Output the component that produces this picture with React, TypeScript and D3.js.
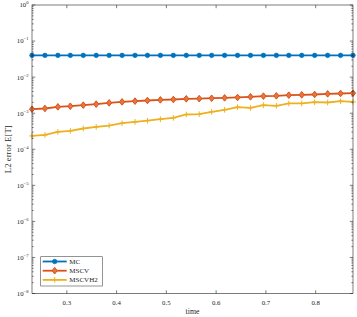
import React, { useEffect, useRef } from 'react'
import * as d3 from 'd3'

// time grid (x values)
const times = [
    0.230, 0.256, 0.282, 0.307, 0.333, 0.359, 0.385, 0.411, 0.437, 0.462,
    0.488, 0.514, 0.540, 0.566, 0.591, 0.617, 0.643, 0.669, 0.695, 0.721,
    0.746, 0.772, 0.798, 0.824, 0.850, 0.875,
]

// L2 error for each method
const mcErr = [
    0.0401, 0.0401, 0.0401, 0.0401, 0.0401, 0.0401, 0.0401, 0.0401, 0.0401,
    0.0401, 0.0401, 0.0401, 0.0401, 0.0401, 0.0401, 0.0401, 0.0401, 0.0401,
    0.0401, 0.0401, 0.0401, 0.0401, 0.0401, 0.0401, 0.0401, 0.0401,
]
const mscvErr = [
    1.29e-3, 1.35e-3, 1.5e-3, 1.56e-3, 1.67e-3, 1.78e-3, 1.93e-3, 2.06e-3,
    2.16e-3, 2.25e-3, 2.34e-3, 2.4e-3, 2.5e-3, 2.53e-3, 2.6e-3, 2.66e-3,
    2.73e-3, 2.84e-3, 2.97e-3, 3.03e-3, 3.16e-3, 3.22e-3, 3.3e-3, 3.43e-3,
    3.52e-3, 3.59e-3,
]
const mscvh2Err = [
    2.34e-4, 2.49e-4, 3.03e-4, 3.22e-4, 3.76e-4, 4.16e-4, 4.55e-4, 5.27e-4,
    5.73e-4, 6.19e-4, 6.81e-4, 7.4e-4, 9.2e-4, 9.38e-4, 1.09e-3, 1.24e-3,
    1.47e-3, 1.4e-3, 1.67e-3, 1.6e-3, 1.86e-3, 1.86e-3, 2.02e-3, 1.98e-3,
    2.16e-3, 2.06e-3,
]

const seriesNames = ['MC', 'MSCV', 'MSCVH2']
const seriesColors = ['#0072BD', '#D95319', '#EDB120']
const seriesMarkers = ['circle', 'diamond', 'plus']

const xTicks = [0.3, 0.4, 0.5, 0.6, 0.7, 0.8]
const yExponents = [0, -1, -2, -3, -4, -5, -6, -7, -8]

const FONT = "'Liberation Serif', 'DejaVu Serif', serif"

const ErrorChart: React.FC = () => {
    const svgRef = useRef<SVGSVGElement | null>(null)

    useEffect(() => {
        if (!svgRef.current) return
        d3.select(svgRef.current).selectAll('*').remove()

        const width = 357
        const height = 317
        const left = 32
        const right = 353
        const top = 5
        const bottom = 293.5
        const axisColor = '#262626'

        const svg = d3
            .select(svgRef.current)
            .attr('width', width)
            .attr('height', height)

        const x = d3.scaleLinear().domain([0.23, 0.875]).range([left, right])
        const y = d3.scaleLog().domain([1e-8, 1]).range([bottom, top])

        svg.append('rect')
            .attr('width', width)
            .attr('height', height)
            .attr('fill', '#fff')

        const allSeries = [mcErr, mscvErr, mscvh2Err]

        // marker drawing helper
        const drawMarker = (g, kind, cx, cy, color) => {
            if (kind === 'circle') {
                g.append('circle')
                    .attr('cx', cx)
                    .attr('cy', cy)
                    .attr('r', 2.3)
                    .attr('fill', color)
                    .attr('stroke', color)
                    .attr('stroke-width', 0.6)
            } else if (kind === 'diamond') {
                g.append('path')
                    .attr(
                        'd',
                        `M${cx},${cy - 3.3}L${cx + 2.6},${cy}L${cx},${cy + 3.3}L${cx - 2.6},${cy}Z`
                    )
                    .attr('fill', '#E8743F')
                    .attr('stroke', color)
                    .attr('stroke-width', 1)
            } else {
                g.append('path')
                    .attr(
                        'd',
                        `M${cx - 2.8},${cy}H${cx + 2.8}M${cx},${cy - 2.8}V${cy + 2.8}`
                    )
                    .attr('stroke', color)
                    .attr('stroke-width', 1)
            }
        }

        const line = d3
            .line<number>()
            .x((_, i) => x(times[i]))
            .y((d) => y(d))

        allSeries.forEach((vals, si) => {
            const g = svg.append('g')
            g.append('path')
                .attr('d', line(vals))
                .attr('fill', 'none')
                .attr('stroke', seriesColors[si])
                .attr('stroke-width', 1.8)
                .attr('stroke-linejoin', 'round')
            vals.forEach((v, i) =>
                drawMarker(g, seriesMarkers[si], x(times[i]), y(v), seriesColors[si])
            )
        })

        // axes box and ticks
        const ax = svg.append('g').attr('stroke', axisColor).attr('stroke-width', 0.6)
        ax.append('rect')
            .attr('x', left)
            .attr('y', top)
            .attr('width', right - left)
            .attr('height', bottom - top)
            .attr('fill', 'none')

        xTicks.forEach((t) => {
            const px = x(t)
            ax.append('line').attr('x1', px).attr('x2', px).attr('y1', bottom).attr('y2', bottom - 3.2)
            ax.append('line').attr('x1', px).attr('x2', px).attr('y1', top).attr('y2', top + 3.2)
            svg.append('text')
                .attr('x', px)
                .attr('y', bottom + 11)
                .attr('text-anchor', 'middle')
                .attr('font-family', FONT)
                .attr('font-size', 6.8)
                .attr('fill', axisColor)
                .text(t.toFixed(1))
        })

        yExponents.forEach((e) => {
            const py = y(Math.pow(10, e))
            ax.append('line').attr('x1', left).attr('x2', left + 3.2).attr('y1', py).attr('y2', py)
            ax.append('line').attr('x1', right).attr('x2', right - 3.2).attr('y1', py).attr('y2', py)
            if (e > -8) {
                for (let m = 2; m <= 9; m++) {
                    const my = y(m * Math.pow(10, e - 1))
                    ax.append('line').attr('x1', left).attr('x2', left + 1.6).attr('y1', my).attr('y2', my)
                    ax.append('line').attr('x1', right).attr('x2', right - 1.6).attr('y1', my).attr('y2', my)
                }
            }
            const txt = svg.append('text')
                .attr('x', 28.5)
                .attr('y', py + 2.4)
                .attr('text-anchor', 'end')
                .attr('font-family', FONT)
                .attr('font-size', 6.8)
                .attr('fill', axisColor)
            txt.append('tspan').text('10')
            txt.append('tspan')
                .attr('dy', -3)
                .attr('font-size', 4.6)
                .text(e === 0 ? '0' : `\u2212${-e}`)
        })

        // axis labels
        svg.append('text')
            .attr('x', (left + right) / 2)
            .attr('y', 314)
            .attr('text-anchor', 'middle')
            .attr('font-family', FONT)
            .attr('font-size', 7.8)
            .attr('fill', axisColor)
            .text('time')

        svg.append('text')
            .attr('transform', `translate(10.5, ${(top + bottom) / 2}) rotate(-90)`)
            .attr('text-anchor', 'middle')
            .attr('font-family', FONT)
            .attr('font-size', 8.8)
            .attr('fill', axisColor)
            .text('L2 error E[T]')

        // legend
        const lg = svg.append('g')
        lg.append('rect')
            .attr('x', 40.7)
            .attr('y', 256.7)
            .attr('width', 61.6)
            .attr('height', 29.3)
            .attr('fill', '#fff')
            .attr('stroke', '#4d4d4d')
            .attr('stroke-width', 0.6)
        seriesNames.forEach((name, i) => {
            const ly = 261.5 + i * 9.2
            lg.append('line')
                .attr('x1', 42.7)
                .attr('x2', 66.7)
                .attr('y1', ly)
                .attr('y2', ly)
                .attr('stroke', seriesColors[i])
                .attr('stroke-width', 1.8)
            drawMarker(lg, seriesMarkers[i], 54.7, ly, seriesColors[i])
            lg.append('text')
                .attr('x', 69.3)
                .attr('y', ly + 2.3)
                .attr('font-family', FONT)
                .attr('font-size', 7)
                .attr('fill', axisColor)
                .text(name)
        })
    }, [])

    return (
        <div style={{ position: 'absolute', left: 0, top: 0 }}>
            <svg ref={svgRef} style={{ display: 'block' }}></svg>
        </div>
    )
}

export default function App() {
    return <ErrorChart />
}
